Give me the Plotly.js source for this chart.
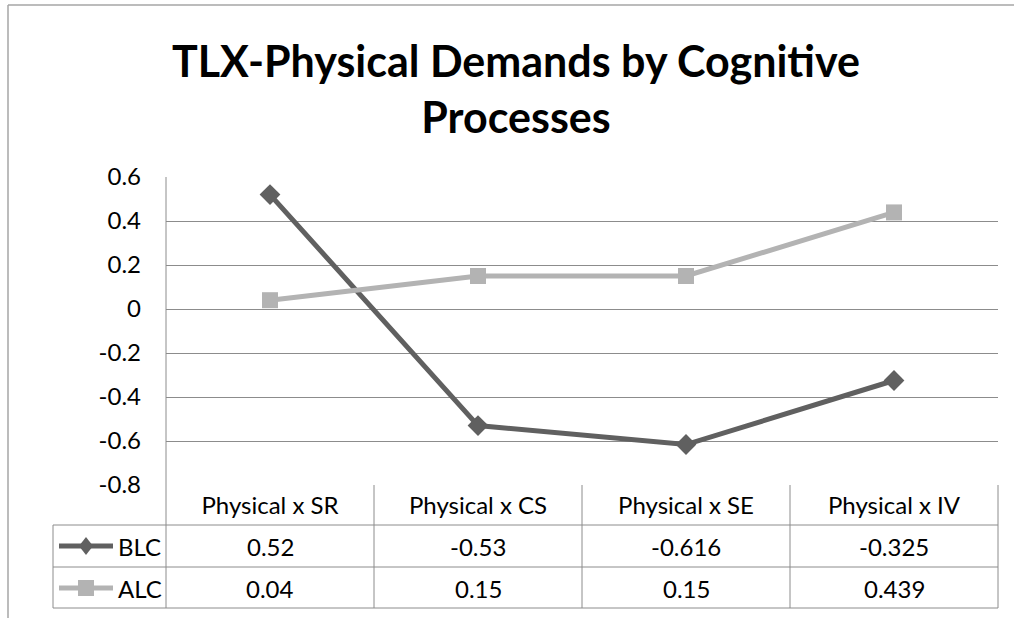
<!DOCTYPE html>
<html>
<head>
<meta charset="utf-8">
<script src="https://cdn.plot.ly/plotly-3.0.1.min.js"></script>
<style>html,body{margin:0;padding:0;background:#fff;}#chart{width:1014px;height:618px;}</style>
</head>
<body>
<div id="chart"></div>
<script>
const categories = ["Physical x SR", "Physical x CS", "Physical x SE", "Physical x IV"];
const blcValues = [0.52, -0.53, -0.616, -0.325];
const alcValues = [0.04, 0.15, 0.15, 0.439];
const seriesNames = ["BLC", "ALC"];
const yTickVals = [0.6, 0.4, 0.2, 0, -0.2, -0.4, -0.6, -0.8];
const yTickText = ["0.6", "0.4", "0.2", "0", "-0.2", "-0.4", "-0.6", "-0.8"];

const W = 1014, H = 618;
const L = 166, R = 998, T = 177, B = 485;
const px = v => (v - L) / (R - L);
const py = v => (B - v) / (B - T);
const FONT = "Lato, Carlito, Calibri, sans-serif";
const DARK = "#606060", LIGHT = "#b3b3b3", GRID = "#8c8c8c", FRAME = "#a6a6a6";
const TXT = 24;

const rowY = [546, 588];
const rowTop = 525, rowMid = 567, rowBot = 608;

const traces = [
  {x: categories, y: blcValues, name: seriesNames[0], type: "scatter", mode: "lines+markers",
   line: {color: DARK, width: 5}, marker: {symbol: "diamond", size: 16, color: DARK}},
  {x: categories, y: alcValues, name: seriesNames[1], type: "scatter", mode: "lines+markers",
   line: {color: LIGHT, width: 5}, marker: {symbol: "square", size: 16, color: LIGHT}}
];

const shapes = [];
function line(x0, y0, x1, y1, color, w) {
  shapes.push({type: "line", xref: "paper", yref: "paper", x0: px(x0), y0: py(y0), x1: px(x1), y1: py(y1),
    line: {color: color, width: w || 1}, layer: "above"});
}
// chart frame
line(8, 5, 1014, 5, FRAME, 1.5);
line(8, 5, 8, 618, FRAME, 1.5);
// plot left border
line(L, T, L, rowBot, GRID);
// table
line(53, rowTop, R, rowTop, GRID);
line(53, rowMid, R, rowMid, GRID);
line(53, rowBot, R, rowBot, GRID);
line(53, rowTop, 53, rowBot, GRID);
line(R, B, R, rowBot, GRID);
// column dividers between categories via x axis positions
for (let i = 0; i < categories.length - 1; i++) {
  shapes.push({type: "line", xref: "x", yref: "paper", x0: i + 0.5, x1: i + 0.5, y0: py(B), y1: py(rowBot),
    line: {color: GRID, width: 1}, layer: "above"});
}
// legend keys
const keyCols = [DARK, LIGHT];
const keyPaths = ["M0,9 L7,0 L0,-9 L-7,0 Z", "M-8,-8 L8,-8 L8,8 L-8,8 Z"];
for (let s = 0; s < 2; s++) {
  line(59, rowY[s], 113, rowY[s], keyCols[s], 5);
  shapes.push({type: "path", xref: "paper", yref: "paper", xsizemode: "pixel", ysizemode: "pixel",
    xanchor: px(86), yanchor: py(rowY[s]), path: keyPaths[s],
    fillcolor: keyCols[s], line: {width: 0}, layer: "above"});
}

const annotations = [];
const allVals = [blcValues, alcValues];
for (let s = 0; s < 2; s++) {
  annotations.push({xref: "paper", yref: "paper", x: px(116), y: py(rowY[s]), xanchor: "left", yanchor: "middle",
    text: seriesNames[s], showarrow: false, font: {family: FONT, size: TXT, color: "#000"}});
  for (let i = 0; i < categories.length; i++) {
    annotations.push({xref: "x", yref: "paper", x: i, y: py(rowY[s]), xanchor: "center", yanchor: "middle",
      text: String(allVals[s][i]), showarrow: false, font: {family: FONT, size: TXT, color: "#000"}});
  }
}

const layout = {
  width: W, height: H,
  margin: {l: L, r: W - R, t: T, b: H - B, pad: 0},
  paper_bgcolor: "#fff", plot_bgcolor: "#fff",
  showlegend: false,
  title: {text: "TLX-Physical Demands by Cognitive<br>Processes", x: 516 / W, xanchor: "center",
    y: 1 - 77 / H, yanchor: "middle", font: {family: FONT, size: 43, color: "#000", weight: "bold"}},
  xaxis: {type: "category", range: [-0.5, categories.length - 0.5], showgrid: false, zeroline: false,
    showline: false, ticks: "", ticklabelstandoff: 4,
    tickfont: {family: FONT, size: TXT, color: "#000"}, fixedrange: true},
  yaxis: {range: [-0.8, 0.6], tickvals: yTickVals, ticktext: yTickText, showgrid: true, gridcolor: GRID,
    gridwidth: 1, zeroline: false, showline: false, ticks: "", ticklabelstandoff: 24,
    tickfont: {family: FONT, size: TXT, color: "#000"}, fixedrange: true},
  shapes: shapes,
  annotations: annotations
};

Plotly.newPlot("chart", traces, layout, {displayModeBar: false, staticPlot: true});
</script>
</body>
</html>
